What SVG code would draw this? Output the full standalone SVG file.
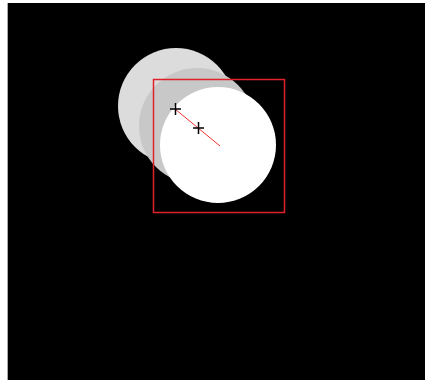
<svg xmlns="http://www.w3.org/2000/svg" width="425" height="380" viewBox="0 0 425 380">
<style>
.cross{stroke:#000;stroke-width:1.5}
</style>
<rect x="0" y="0" width="425" height="380" fill="#fff"/>
<line x1="7.5" y1="3" x2="7.5" y2="380" stroke="#aaa" stroke-width="1"/>
<rect x="8" y="3" width="417" height="377" fill="#000"/>
<g id="circle-light"><circle cx="176" cy="106" r="58" fill="#dcdcdc"/></g>
<g id="circle-mid"><circle cx="197" cy="126" r="58" fill="#c8c8c8"/></g>
<g id="circle-white"><circle cx="218" cy="145" r="58" fill="#fff"/></g>
<g id="box"><rect x="153.5" y="79.5" width="131" height="133" fill="none" stroke="#e0202a" stroke-width="1.5"/></g>
<g id="connectors"><line x1="175" y1="109" x2="220" y2="146" stroke="#f03030" stroke-width="1"/></g>
<g id="cross1" class="cross"><line x1="170" y1="109" x2="181" y2="109"/><line x1="175.5" y1="103" x2="175.5" y2="115"/></g>
<g id="cross2" class="cross"><line x1="193" y1="128" x2="204" y2="128"/><line x1="198.5" y1="122" x2="198.5" y2="134"/></g>
</svg>
